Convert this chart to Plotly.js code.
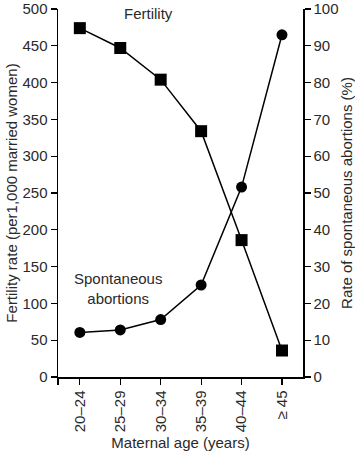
<!DOCTYPE html>
<html><head><meta charset="utf-8">
<script src="https://cdn.plot.ly/plotly-3.0.1.min.js"></script>
<style>html,body{margin:0;padding:0;background:#fff}</style>
</head><body><div id="chart" style="width:355px;height:460px"></div>
<script>
const categories = ["20–24", "25–29", "30–34", "35–39", "40–44", "≥ 45"];
const fertility = [474, 447, 404, 334, 186, 36];
const abortions = [12.1, 12.8, 15.6, 25, 51.6, 93];
const leftTicks = [0, 50, 100, 150, 200, 250, 300, 350, 400, 450, 500];
const rightTicks = [0, 10, 20, 30, 40, 50, 60, 70, 80, 90, 100];

const idx = categories.map((c, i) => i);
const font = {family: "Liberation Sans, Arial, sans-serif", size: 15, color: "#2a2a2a"};

const traces = [
  {x: idx, y: fertility, type: "scatter", mode: "lines+markers", yaxis: "y",
   line: {color: "#000", width: 1.5}, marker: {symbol: "square", size: 12, color: "#000"},
   cliponaxis: false, showlegend: false},
  {x: idx, y: abortions, type: "scatter", mode: "lines+markers", yaxis: "y2",
   line: {color: "#000", width: 1.5}, marker: {symbol: "circle", size: 11, color: "#000"},
   cliponaxis: false, showlegend: false}
];

const axisCommon = {showline: true, linecolor: "#000", linewidth: 1.5, ticks: "outside",
  ticklen: 6, tickwidth: 1.2, tickcolor: "#000", showgrid: false, zeroline: false,
  tickfont: font, fixedrange: true, ticklabeloverflow: "allow"};

const layout = {
  width: 355, height: 460,
  margin: {l: 58, r: 52, t: 9, b: 83},
  paper_bgcolor: "#fff", plot_bgcolor: "#fff",
  font: font,
  xaxis: Object.assign({}, axisCommon, {
    type: "linear", range: [-0.54, 5.52],
    tickmode: "array", tickvals: [-0.54].concat(idx), ticktext: [""].concat(categories),
    tickangle: -90,
    title: {text: "Maternal age (years)", font: font, standoff: 6}
  }),
  yaxis: Object.assign({}, axisCommon, {
    range: [0, 500.01], tickmode: "array", tickvals: leftTicks, ticktext: leftTicks.map(String),
    title: {text: "Fertility rate (per1,000 married women)", font: font, standoff: 1}
  }),
  yaxis2: Object.assign({}, axisCommon, {
    overlaying: "y", side: "right", range: [0, 100.002], tickmode: "array",
    tickvals: rightTicks, ticktext: rightTicks.map(String),
    title: {text: "Rate of spontaneous abortions (%)", font: font, standoff: 8}
  }),
  annotations: [
    {text: "Fertility", x: 1.7, y: 494, xref: "x", yref: "y", showarrow: false, font: font},
    {text: "Spontaneous<br>abortions", x: 0.95, y: 120, xref: "x", yref: "y", showarrow: false, font: font, align: "center"}
  ]
};

Plotly.newPlot("chart", traces, layout, {displayModeBar: false, staticPlot: true});
</script></body></html>
